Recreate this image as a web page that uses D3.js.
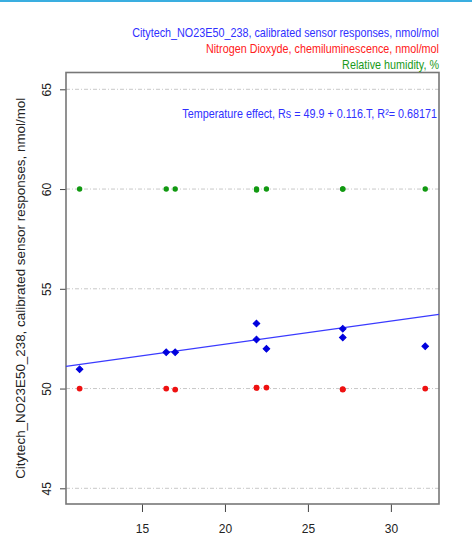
<!DOCTYPE html>
<html>
<head>
<meta charset="utf-8">
<script src="https://cdn.jsdelivr.net/npm/d3@7"></script>
<style>
  body { margin: 0; background: #fff; }
  svg { display: block; font-family: "Liberation Sans", Arial, sans-serif; }
</style>
</head>
<body>
<div id="chart"></div>
<script>
// Temperature (x) for each sample
const temperature = [11.24, 16.46, 17.0, 21.9, 21.9, 22.5, 27.1, 27.1, 32.07];
// Calibrated sensor responses, nmol/mol (blue)
const sensor = [50.97, 51.82, 51.82, 53.26, 52.46, 51.99, 53.0, 52.56, 52.12];
// Nitrogen dioxide reference, nmol/mol (red)
const no2Ref = [50.0, 50.0, 49.95, 50.05, 50.03, 50.05, 49.95, 49.97, 50.0];
// Relative humidity, % (green)
const humidity = [60.0, 60.0, 60.0, 60.0, 59.95, 60.0, 60.0, 60.0, 60.0];

const xTicks = [15, 20, 25, 30];
const yTicks = [45, 50, 55, 60, 65];

// regression from the annotation
const intercept = 49.9;
const slope = 0.116;

const legendItems = [
    { text: "Citytech_NO23E50_238, calibrated sensor responses, nmol/mol", color: "#3030ff" },
    { text: "Nitrogen Dioxyde, chemiluminescence, nmol/mol", color: "#ff2020" },
    { text: "Relative humidity, %", color: "#1a9a1a" }
];
const annotation = "Temperature effect, Rs = 49.9 + 0.116.T, R\u00b2= 0.68171";
const yLabel = "Citytech_NO23E50_238, calibrated sensor responses, nmol/mol";

const W = 472, H = 556;
const box = { left: 66, right: 439, top: 72.5, bottom: 504 };
const narrow = 0.83; // no condensed font available, squeeze horizontally

const svg = d3.select("#chart").append("svg")
    .attr("width", W)
    .attr("height", H);

// top accent strip
svg.append("rect")
    .attr("x", 0).attr("y", 0)
    .attr("width", W).attr("height", 2)
    .attr("fill", "#3aaee0");

const x = d3.scaleLinear()
    .domain([10.42, 32.9])
    .range([box.left, box.right]);

const y = d3.scaleLinear()
    .domain([45, 65])
    .range([488.3, 89.3]);

// grid lines at y ticks
svg.append("g")
    .selectAll("line")
    .data(yTicks)
    .join("line")
    .attr("x1", box.left).attr("x2", box.right)
    .attr("y1", d => y(d)).attr("y2", d => y(d))
    .attr("stroke", "#c8c8c8")
    .attr("stroke-width", 1)
    .attr("stroke-dasharray", "4,2,1,2");

// x axis
const xAxis = svg.append("g")
    .attr("transform", `translate(0,${box.bottom})`)
    .call(d3.axisBottom(x).tickValues(xTicks).tickSize(8).tickPadding(12).tickFormat(d3.format("d")));
xAxis.select(".domain").remove();
xAxis.selectAll("line").attr("stroke", "#444");
xAxis.selectAll("text").attr("font-size", 12).attr("fill", "#222")
    .attr("font-family", "Liberation Sans, Arial, sans-serif");

// y axis with rotated labels
const yAxis = svg.append("g")
    .attr("transform", `translate(${box.left},0)`)
    .call(d3.axisLeft(y).tickValues(yTicks).tickSize(6).tickFormat(d3.format("d")));
yAxis.select(".domain").remove();
yAxis.selectAll("line").attr("stroke", "#444");
yAxis.selectAll("text")
    .attr("font-size", 12).attr("fill", "#222")
    .attr("font-family", "Liberation Sans, Arial, sans-serif")
    .attr("x", null)
    .attr("text-anchor", "middle")
    .attr("transform", "translate(-19,0) rotate(-90)")
    .attr("dy", "0.35em");

// plot box
svg.append("rect")
    .attr("x", box.left).attr("y", box.top)
    .attr("width", box.right - box.left)
    .attr("height", box.bottom - box.top)
    .attr("fill", "none")
    .attr("stroke", "#777")
    .attr("stroke-width", 1.6);

// regression line
const line = d3.line().x(d => x(d)).y(d => y(intercept + slope * d));
svg.append("path")
    .attr("d", line(x.domain()))
    .attr("fill", "none")
    .attr("stroke", "#3a3aff")
    .attr("stroke-width", 1.3);

// humidity points
svg.append("g")
    .selectAll("circle")
    .data(humidity)
    .join("circle")
    .attr("cx", (d, i) => x(temperature[i]))
    .attr("cy", d => y(d))
    .attr("r", 2.7)
    .attr("fill", "#119911");

// NO2 points
svg.append("g")
    .selectAll("circle")
    .data(no2Ref)
    .join("circle")
    .attr("cx", (d, i) => x(temperature[i]))
    .attr("cy", d => y(d))
    .attr("r", 2.9)
    .attr("fill", "#ee1111");

// sensor points (pch 18 style diamonds)
svg.append("g")
    .selectAll("path")
    .data(sensor)
    .join("path")
    .attr("d", d3.symbol(d3.symbolSquare, 22))
    .attr("transform", (d, i) => `translate(${x(temperature[i])},${y(d)}) rotate(45)`)
    .attr("fill", "#0000dd")
    .attr("stroke", "#0000dd")
    .attr("stroke-width", 1);

// legend text at top right
svg.append("g")
    .selectAll("text")
    .data(legendItems)
    .join("text")
    .attr("transform", (d, i) => `translate(${box.right},${37 + i * 16}) scale(${narrow},1)`)
    .attr("text-anchor", "end")
    .attr("font-size", 13)
    .attr("fill", d => d.color)
    .text(d => d.text);

// regression annotation
svg.append("text")
    .attr("transform", `translate(${box.right - 2},118) scale(${narrow},1)`)
    .attr("text-anchor", "end")
    .attr("font-size", 13)
    .attr("fill", "#3030ff")
    .text(annotation);

// y axis title
svg.append("text")
    .attr("transform", `translate(25,${(box.top + box.bottom) / 2}) rotate(-90)`)
    .attr("text-anchor", "middle")
    .attr("font-size", 13.4)
    .attr("fill", "#222")
    .text(yLabel);
</script>
</body>
</html>
